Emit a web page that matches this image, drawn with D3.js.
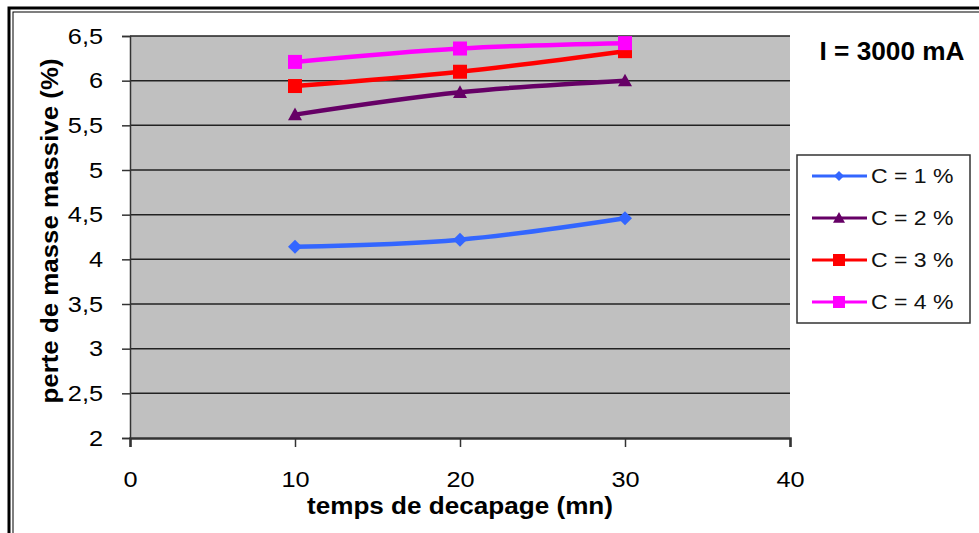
<!DOCTYPE html>
<html><head><meta charset="utf-8">
<script src="https://cdn.jsdelivr.net/npm/d3@7"></script>
<style>body{margin:0;background:#fff}svg{display:block}</style>
</head><body>
<script>
const times = [10, 20, 30];
const seriesNames = ["C = 1 %", "C = 2 %", "C = 3 %", "C = 4 %"];
const c1 = [4.14, 4.22, 4.46];
const c2 = [5.62, 5.87, 6.0];
const c3 = [5.94, 6.10, 6.33];
const c4 = [6.21, 6.36, 6.42];
const yTicks = [2, 2.5, 3, 3.5, 4, 4.5, 5, 5.5, 6, 6.5];
const xTicks = [0, 10, 20, 30, 40];
const colors = ["#3366ff", "#660066", "#ff0000", "#ff00ff"];
const markers = ["diamond", "triangle", "square", "square"];
const allSeries = [c1, c2, c3, c4];

const W = 979, H = 533;
const svg = d3.select("body").append("svg").attr("width", W).attr("height", H);
const sans = "'Liberation Sans', Arial, sans-serif";

function stretch(sel, k) {
  sel.each(function () {
    const w = this.getComputedTextLength();
    d3.select(this).attr("textLength", w * k).attr("lengthAdjust", "spacingAndGlyphs");
  });
}

// frame
svg.append("rect").attr("x", 9).attr("y", 8).attr("width", W + 20).attr("height", H + 20)
  .attr("fill", "none").attr("stroke", "#000").attr("stroke-width", 3);
svg.append("rect").attr("x", 13).attr("y", 12).attr("width", W + 20).attr("height", H + 20)
  .attr("fill", "none").attr("stroke", "#000").attr("stroke-width", 1);

const m = {l: 130, r: 790, t: 36, b: 438};
const x = d3.scaleLinear().domain([0, 40]).range([m.l, m.r]);
const y = d3.scaleLinear().domain([2, 6.5]).range([m.b, m.t]);

svg.append("rect").attr("x", m.l).attr("y", m.t).attr("width", m.r - m.l).attr("height", m.b - m.t)
  .attr("fill", "#c0c0c0");

// gridlines
svg.append("g").selectAll("line").data(yTicks.filter(d => d > 2)).join("line")
  .attr("x1", m.l).attr("x2", m.r).attr("y1", d => y(d)).attr("y2", d => y(d))
  .attr("stroke", "#222").attr("stroke-width", 1.5);

// y axis
const ya = svg.append("g").attr("transform", `translate(${m.l},0)`)
  .call(d3.axisLeft(y).tickValues(yTicks).tickSize(8).tickPadding(19)
    .tickFormat(d => String(d).replace(".", ",")));
ya.select(".domain").attr("stroke", "#333").attr("stroke-width", 1.5);
ya.selectAll(".tick line").attr("stroke", "#333").attr("stroke-width", 1.5);
ya.selectAll("text").attr("font-family", sans).attr("font-size", 22).attr("fill", "#000");
stretch(ya.selectAll("text"), 1.15);

// x axis
const xa = svg.append("g").attr("transform", `translate(0,${m.b})`)
  .call(d3.axisBottom(x).tickValues(xTicks).tickSize(9).tickPadding(24));
xa.select(".domain").attr("stroke", "#333").attr("stroke-width", 2.5);
xa.selectAll(".tick line").attr("stroke", "#333").attr("stroke-width", 1.5);
xa.selectAll("text").attr("font-family", sans).attr("font-size", 22).attr("fill", "#000");
stretch(xa.selectAll("text"), 1.15);

// titles
svg.append("text").attr("x", 460).attr("y", 514).attr("text-anchor", "middle")
  .attr("font-family", sans).attr("font-weight", "bold").attr("font-size", 23)
  .attr("textLength", 306).attr("lengthAdjust", "spacingAndGlyphs")
  .text("temps de decapage (mn)");
svg.append("text").attr("transform", `translate(58,231) rotate(-90)`)
  .attr("text-anchor", "middle").attr("font-family", sans).attr("font-weight", "bold").attr("font-size", 24)
  .attr("textLength", 345).attr("lengthAdjust", "spacingAndGlyphs")
  .text("perte de masse massive (%)");
svg.append("text").attr("x", 892).attr("y", 60).attr("text-anchor", "middle")
  .attr("font-family", sans).attr("font-weight", "bold").attr("font-size", 25)
  .attr("textLength", 145).attr("lengthAdjust", "spacingAndGlyphs")
  .text("I = 3000 mA");

function drawMarker(g, type, cx, cy, color, s) {
  if (type === "diamond") {
    g.append("path").attr("d", `M${cx},${cy - s}L${cx + s},${cy}L${cx},${cy + s}L${cx - s},${cy}Z`).attr("fill", color);
  } else if (type === "triangle") {
    g.append("path").attr("d", `M${cx},${cy - s}L${cx + s},${cy + s * 0.8}L${cx - s},${cy + s * 0.8}Z`).attr("fill", color);
  } else {
    g.append("rect").attr("x", cx - s).attr("y", cy - s).attr("width", 2 * s).attr("height", 2 * s).attr("fill", color);
  }
}

const line = d3.line().x(d => x(d[0])).y(d => y(d[1])).curve(d3.curveCatmullRom.alpha(0.5));
allSeries.forEach((vals, i) => {
  const pts = times.map((t, j) => [t, vals[j]]);
  const g = svg.append("g");
  g.append("path").attr("d", line(pts)).attr("fill", "none").attr("stroke", colors[i]).attr("stroke-width", 4.5);
  pts.forEach(p => drawMarker(g, markers[i], x(p[0]), y(p[1]), colors[i], 7));
});

// legend
const lg = svg.append("g");
lg.append("rect").attr("x", 797).attr("y", 155).attr("width", 173).attr("height", 168)
  .attr("fill", "#fff").attr("stroke", "#333").attr("stroke-width", 1.5);
seriesNames.forEach((n, i) => {
  const cy = 176 + i * 42;
  lg.append("line").attr("x1", 812).attr("x2", 867).attr("y1", cy).attr("y2", cy)
    .attr("stroke", colors[i]).attr("stroke-width", 3);
  drawMarker(lg, markers[i], 839, cy, colors[i], markers[i] === "diamond" ? 5 : 6);
  const t = lg.append("text").attr("x", 871).attr("y", cy + 7).attr("font-family", sans)
    .attr("font-size", 20).attr("fill", "#111").text(n);
  stretch(t, 1.15);
});
</script>
</body></html>
